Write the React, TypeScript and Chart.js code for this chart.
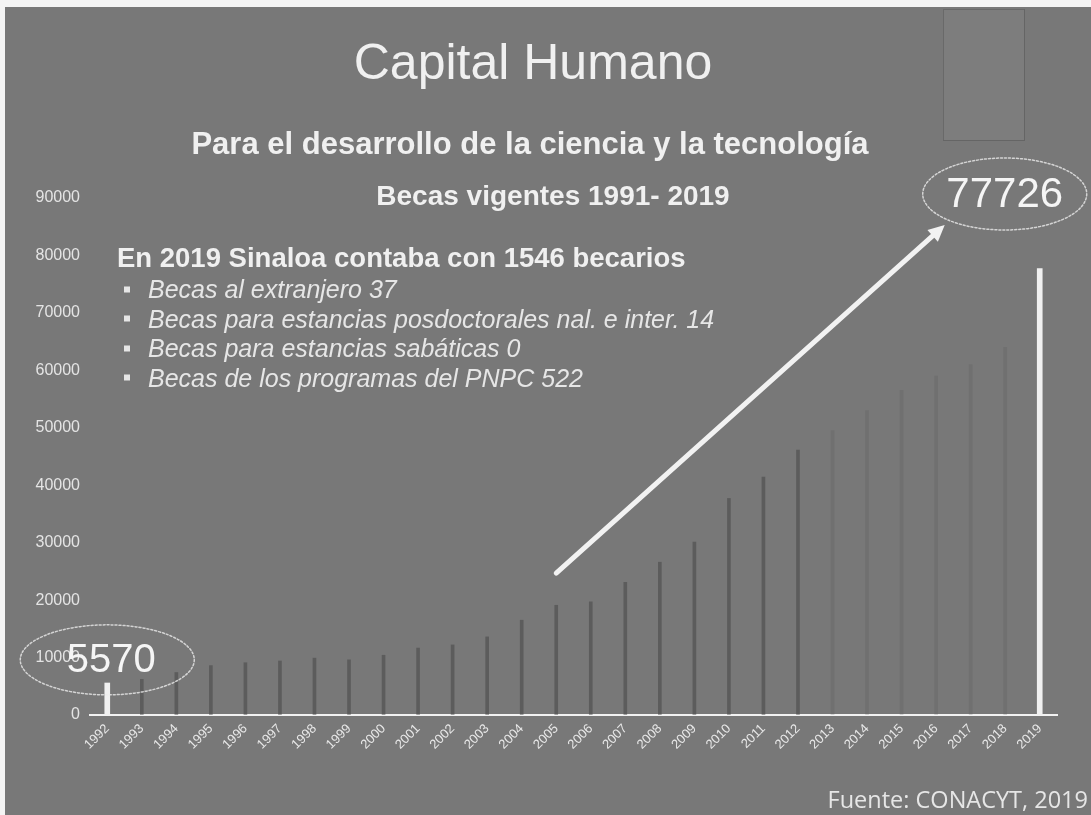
import React, { useEffect, useRef } from "react";
import { Chart, registerables } from "chart.js";

Chart.register(...registerables);

const years = [
  "1992", "1993", "1994", "1995", "1996", "1997", "1998", "1999", "2000", "2001",
  "2002", "2003", "2004", "2005", "2006", "2007", "2008", "2009", "2010", "2011",
  "2012", "2013", "2014", "2015", "2016", "2017", "2018", "2019",
];

// highlighted first and last years (white bars)
const highlightValues = [
  5570, null, null, null, null, null, null, null, null, null,
  null, null, null, null, null, null, null, null, null, null,
  null, null, null, null, null, null, null, 77726,
];

// remaining years (faint dark bars)
const becasValues = [
  null, 6200, 7400, 8600, 9100, 9400, 9900, 9600, 10400, 11650,
  12200, 13600, 16500, 19100, 19700, 23100, 26600, 30100, 37700, 41400,
  46100, 49500, 53000, 56500, 59000, 61000, 64000, null,
];

const yTicks = [0, 10000, 20000, 30000, 40000, 50000, 60000, 70000, 80000, 90000];

const firstLabel = "5570";
const lastLabel = "77726";

const bullets = [
  "Becas al extranjero  37",
  "Becas para estancias posdoctorales nal. e inter. 14",
  "Becas para estancias  sabáticas 0",
  "Becas de los programas del PNPC 522",
];

const W = 1091;
const H = 815;

const slidePlugin = {
  id: "slide",
  beforeDraw(chart: any) {
    const ctx = chart.ctx;
    ctx.save();
    ctx.fillStyle = "#787878";
    ctx.fillRect(0, 0, W, H);
    // scanner white edges
    ctx.fillStyle = "#f4f4f4";
    ctx.fillRect(0, 0, W, 7);
    ctx.fillRect(0, 0, 5, H);
    // decorative rectangle top right
    ctx.fillStyle = "rgba(255,255,255,0.04)";
    ctx.fillRect(943, 9, 81, 131);
    ctx.strokeStyle = "rgba(60,60,60,0.3)";
    ctx.lineWidth = 1;
    ctx.strokeRect(943.5, 9.5, 81, 131);
    ctx.restore();
  },
  afterDraw(chart: any) {
    const ctx = chart.ctx;
    const xs = chart.scales.x;
    const ys = chart.scales.y;
    const x0 = xs.getPixelForValue(0);
    const xLast = xs.getPixelForValue(years.length - 1);
    const x2005 = xs.getPixelForValue(13);
    ctx.save();

    // arrow
    const sx = x2005;
    const sy = ys.getPixelForValue(24700);
    const ex = xLast - 95;
    const ey = ys.getPixelForValue(85300);
    ctx.strokeStyle = "#f2f2f2";
    ctx.fillStyle = "#f2f2f2";
    ctx.lineWidth = 5;
    ctx.lineCap = "round";
    const ang = Math.atan2(ey - sy, ex - sx);
    const headLen = 18;
    ctx.beginPath();
    ctx.moveTo(sx, sy);
    ctx.lineTo(ex - Math.cos(ang) * headLen * 0.8, ey - Math.sin(ang) * headLen * 0.8);
    ctx.stroke();
    ctx.beginPath();
    ctx.moveTo(ex, ey);
    ctx.lineTo(ex - headLen * Math.cos(ang - 0.45), ey - headLen * Math.sin(ang - 0.45));
    ctx.lineTo(ex - headLen * Math.cos(ang + 0.45), ey - headLen * Math.sin(ang + 0.45));
    ctx.closePath();
    ctx.fill();

    // ellipses
    ctx.setLineDash([2, 2]);
    ctx.lineWidth = 1.5;
    ctx.strokeStyle = "rgba(235,235,235,0.8)";
    const c1x = x0;
    const c1y = ys.getPixelForValue(9600);
    ctx.beginPath();
    ctx.ellipse(c1x, c1y, 87, 35, 0, 0, Math.PI * 2);
    ctx.stroke();
    const c2x = xLast - 35;
    const c2y = ys.getPixelForValue(90000) - 4;
    ctx.beginPath();
    ctx.ellipse(c2x, c2y, 82, 36, 0, 0, Math.PI * 2);
    ctx.stroke();
    ctx.setLineDash([]);

    // annotation values
    ctx.fillStyle = "#f5f5f5";
    ctx.textAlign = "center";
    ctx.textBaseline = "middle";
    ctx.font = "40px 'Liberation Sans', Arial, sans-serif";
    ctx.fillText(firstLabel, c1x + 4, c1y + 1);
    ctx.font = "42px 'Liberation Sans', Arial, sans-serif";
    ctx.fillText(lastLabel, c2x, c2y + 1);
    ctx.restore();
  },
};

export default function App() {
  const canvasRef = useRef<HTMLCanvasElement | null>(null);

  useEffect(() => {
    const canvas = canvasRef.current;
    if (!canvas) return;
    const darkColors = becasValues.map((_, i) =>
      i >= 21 ? "rgba(80,80,80,0.18)" : "rgba(55,55,55,0.42)"
    );
    const chart = new Chart(canvas, {
      type: "bar",
      data: {
        labels: years,
        datasets: [
          {
            label: "Becas vigentes",
            data: becasValues as any,
            backgroundColor: darkColors,
            barThickness: 3,
            grouped: false,
          } as any,
          {
            label: "Becas vigentes (destacado)",
            data: highlightValues as any,
            backgroundColor: "#f0f0f0",
            barThickness: 5,
            grouped: false,
          } as any,
        ],
      },
      options: {
        responsive: false,
        animation: false,
        layout: { padding: { top: 198, right: 34, bottom: 0, left: 0 } },
        plugins: {
          legend: { display: false },
          tooltip: { enabled: false },
          title: { display: false },
        },
        scales: {
          x: {
            type: "category",
            offset: true,
            grid: { display: false, drawTicks: false },
            border: { display: true, color: "#f2f2f2", width: 2 },
            ticks: {
              color: "#e8e8e8",
              font: { family: "'Liberation Sans', Arial, sans-serif", size: 13 },
              maxRotation: 45,
              minRotation: 45,
              autoSkip: false,
              padding: 6,
            },
            afterFit(scale: any) {
              scale.height = 100;
            },
          },
          y: {
            min: 0,
            max: 90000,
            grid: { display: false, drawTicks: false },
            border: { display: false },
            ticks: {
              color: "#e4e4e4",
              font: { family: "'Liberation Sans', Arial, sans-serif", size: 16 },
              padding: 10,
              callback: (v: any) => String(v),
            },
            afterBuildTicks(scale: any) {
              scale.ticks = yTicks.map((v) => ({ value: v }));
            },
            afterFit(scale: any) {
              scale.width = 90;
            },
          },
        },
      } as any,
      plugins: [slidePlugin],
    });
    return () => chart.destroy();
  }, []);

  const textBase: React.CSSProperties = {
    position: "absolute",
    color: "#f0f0f0",
    fontFamily: "'Liberation Sans', Arial, sans-serif",
    lineHeight: 1,
    whiteSpace: "nowrap",
  };

  return (
    <div style={{ position: "fixed", left: 0, top: 0, width: W, height: H, overflow: "hidden" }}>
      <canvas ref={canvasRef} width={W} height={H} style={{ display: "block", width: W, height: H }} />
      <div style={{ ...textBase, left: 533, top: 62, transform: "translate(-50%, -50%)", fontSize: 50 }}>
        Capital Humano
      </div>
      <div style={{ ...textBase, left: 530, top: 143, transform: "translate(-50%, -50%)", fontSize: 31, fontWeight: "bold" }}>
        Para el desarrollo de la ciencia y la tecnología
      </div>
      <div style={{ ...textBase, left: 553, top: 196, transform: "translate(-50%, -50%)", fontSize: 28, fontWeight: "bold" }}>
        Becas vigentes 1991- 2019
      </div>
      <div style={{ ...textBase, left: 117, top: 258, transform: "translate(0, -50%)", fontSize: 27.5, fontWeight: "bold" }}>
        En 2019 Sinaloa contaba con 1546 becarios
      </div>
      {bullets.map((b, i) => (
        <div key={i} style={{ ...textBase, left: 124, top: 289 + i * 29.5, transform: "translate(0, -50%)", fontSize: 25, fontStyle: "italic", color: "#e6e6e6", display: "flex", alignItems: "center" }}>
          <span style={{ display: "inline-block", width: 6, height: 6, background: "#e6e6e6", marginRight: 18 }} />
          <span>{b}</span>
        </div>
      ))}
      <div style={{ ...textBase, right: 3, top: 800, transform: "translate(0, -50%)", fontSize: 23.5, fontFamily: "'Open Sans', 'Noto Sans', sans-serif", color: "#e6e6e6" }}>
        Fuente: CONACYT, 2019
      </div>
    </div>
  );
}
